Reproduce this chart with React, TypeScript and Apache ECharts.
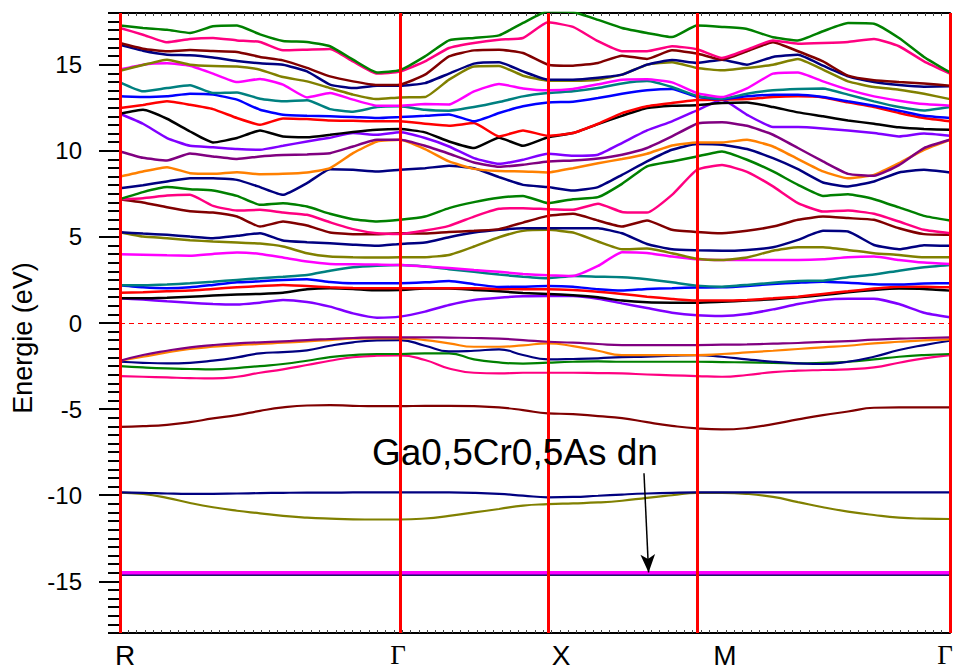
import React, { useEffect, useRef } from 'react';
import * as echarts from 'echarts';

// k-path sampling (arbitrary length units along R-Γ-X-M-Γ)
const kPoints = [
  0, 23, 47, 70, 93, 117, 140, 163, 187, 210, 233, 257, 280,
  305, 329, 354, 379, 403, 428,
  453, 478, 502, 527, 552, 577,
  602, 627, 653, 678, 703, 728, 754, 779, 804, 830,
];
const symK = [0, 280, 428, 577, 830];
const symNames = ['R', 'Γ', 'X', 'M', 'Γ'];
const yTickValues = [-15, -10, -5, 0, 5, 10, 15];
const annotationText = 'Ga0,5Cr0,5As dn';
const arrowFrom = [524, -8.72];
const arrowTo = [528.6, -14.48];

// semicore d bands (sampled at the high-symmetry points)
const b01Black = [-14.62, -14.62, -14.62, -14.62, -14.62];
const b02Red = [-14.58, -14.5, -14.5, -14.5, -14.5];
const b03Blue = [-14.62, -14.62, -14.62, -14.62, -14.62];
const b04Teal = [-14.5, -14.5, -14.5, -14.5, -14.5];
const b05Magenta = [-14.5, -14.5, -14.5, -14.5, -14.5];

// valence bands
const b06Olive = [-9.85, -9.93, -10.15, -10.45, -10.7, -10.9, -11.05, -11.2, -11.3, -11.36, -11.4, -11.41, -11.41, -11.35, -11.2, -11.0, -10.8, -10.6, -10.52, -10.47, -10.42, -10.32, -10.15, -10.0, -9.86, -9.86, -9.92, -10.1, -10.4, -10.7, -10.95, -11.15, -11.3, -11.36, -11.38];
const b07Navy = [-9.84, -9.86, -9.9, -9.92, -9.92, -9.9, -9.88, -9.86, -9.85, -9.85, -9.84, -9.84, -9.84, -9.84, -9.84, -9.86, -9.92, -10.02, -10.12, -10.1, -10.03, -9.96, -9.9, -9.86, -9.84, -9.84, -9.84, -9.84, -9.84, -9.84, -9.84, -9.84, -9.84, -9.84, -9.84];
const b08Maroon = [-6.03, -5.99, -5.91, -5.76, -5.54, -5.35, -5.1, -4.9, -4.79, -4.77, -4.81, -4.83, -4.83, -4.81, -4.81, -4.83, -4.9, -5.06, -5.25, -5.29, -5.41, -5.52, -5.76, -5.97, -6.12, -6.18, -6.1, -5.87, -5.6, -5.35, -5.14, -4.92, -4.9, -4.9, -4.9];
const b09Pink = [-3.08, -3.12, -3.16, -3.2, -3.22, -3.12, -2.89, -2.69, -2.44, -2.19, -1.99, -1.9, -1.88, -2.15, -2.64, -2.89, -2.93, -2.89, -2.89, -2.89, -2.91, -2.93, -2.99, -3.04, -3.08, -3.12, -3.02, -2.85, -2.77, -2.73, -2.69, -2.58, -2.31, -2.05, -1.86];
const b10Green = [-2.5, -2.58, -2.64, -2.67, -2.69, -2.62, -2.5, -2.38, -2.19, -1.98, -1.86, -1.8, -1.8, -1.76, -1.76, -2.11, -2.29, -2.36, -2.3, -2.25, -2.23, -2.25, -2.25, -2.25, -2.25, -2.27, -2.29, -2.31, -2.34, -2.31, -2.25, -2.11, -1.96, -1.86, -1.8];
const b11Navy = [-2.25, -2.31, -2.34, -2.31, -2.19, -2.0, -1.76, -1.69, -1.59, -1.32, -1.12, -1.01, -0.99, -1.32, -1.65, -1.61, -1.53, -1.86, -2.11, -2.09, -2.05, -1.98, -1.96, -1.9, -1.86, -1.96, -2.11, -2.25, -2.34, -2.38, -2.25, -1.96, -1.57, -1.28, -1.03];
const b12Orange = [-2.19, -1.96, -1.71, -1.51, -1.38, -1.28, -1.22, -1.14, -1.07, -0.99, -0.91, -0.89, -0.89, -0.99, -1.18, -1.38, -1.38, -1.3, -1.18, -1.34, -1.61, -1.86, -1.86, -1.86, -1.86, -1.8, -1.71, -1.61, -1.51, -1.41, -1.32, -1.18, -1.09, -1.01, -0.95];
const b13Purple = [-2.19, -1.86, -1.61, -1.41, -1.28, -1.18, -1.12, -1.07, -0.99, -0.93, -0.87, -0.83, -0.83, -0.83, -0.85, -0.87, -0.91, -0.99, -1.09, -1.14, -1.22, -1.28, -1.28, -1.28, -1.28, -1.26, -1.24, -1.2, -1.16, -1.1, -1.05, -0.97, -0.91, -0.87, -0.83];

// conduction bands
const b14Violet = [1.43, 1.36, 1.26, 1.18, 1.1, 1.07, 1.18, 1.34, 1.22, 0.95, 0.56, 0.31, 0.37, 0.66, 1.05, 1.34, 1.47, 1.55, 1.57, 1.57, 1.41, 1.14, 0.87, 0.6, 0.45, 0.41, 0.52, 0.79, 1.1, 1.34, 1.41, 1.41, 1.1, 0.6, 0.33];
const b15Black = [1.43, 1.43, 1.47, 1.53, 1.59, 1.65, 1.69, 1.76, 1.96, 2.02, 1.98, 1.9, 1.92, 2.0, 2.0, 1.92, 1.84, 1.74, 1.69, 1.61, 1.49, 1.3, 1.2, 1.18, 1.18, 1.24, 1.3, 1.38, 1.49, 1.63, 1.78, 1.92, 2.0, 1.98, 1.88];
const b16Red = [1.76, 1.78, 1.84, 1.88, 1.98, 2.07, 2.15, 2.21, 2.15, 2.07, 2.03, 2.02, 2.02, 2.02, 2.02, 2.02, 1.98, 1.96, 1.96, 1.92, 1.82, 1.69, 1.53, 1.4, 1.3, 1.3, 1.34, 1.43, 1.53, 1.69, 1.84, 2.0, 2.11, 2.11, 2.07];
const b17Blue = [2.19, 2.07, 2.02, 2.07, 2.21, 2.36, 2.42, 2.5, 2.54, 2.38, 2.31, 2.31, 2.31, 2.36, 2.44, 2.25, 2.09, 2.11, 2.15, 2.11, 1.96, 1.88, 1.98, 2.02, 2.06, 2.07, 2.15, 2.27, 2.34, 2.4, 2.34, 2.25, 2.23, 2.29, 2.31];
const b18Teal = [2.19, 2.19, 2.23, 2.31, 2.4, 2.5, 2.6, 2.69, 2.79, 3.04, 3.24, 3.33, 3.37, 3.28, 3.12, 2.97, 2.81, 2.69, 2.6, 2.73, 2.69, 2.66, 2.54, 2.36, 2.17, 2.11, 2.21, 2.34, 2.44, 2.46, 2.66, 2.81, 3.04, 3.24, 3.37];
const b19Magenta = [3.99, 3.97, 3.93, 3.91, 4.01, 4.09, 4.01, 3.8, 3.57, 3.43, 3.41, 3.39, 3.37, 3.28, 3.2, 3.08, 2.97, 2.85, 2.77, 2.73, 3.31, 4.11, 4.07, 3.86, 3.7, 3.66, 3.66, 3.66, 3.66, 3.7, 3.82, 3.86, 3.66, 3.51, 3.43];
const b20Olive = [5.27, 5.02, 4.92, 4.81, 4.73, 4.67, 4.61, 4.44, 4.05, 3.86, 3.82, 3.8, 3.82, 3.82, 3.95, 4.44, 4.98, 5.35, 5.41, 5.25, 4.73, 4.28, 4.32, 4.05, 3.73, 3.66, 3.8, 4.2, 4.4, 4.4, 4.24, 4.05, 3.95, 3.82, 3.82];
const b21Navy = [5.27, 5.19, 5.12, 5.02, 4.92, 5.06, 5.21, 4.79, 4.69, 4.63, 4.55, 4.48, 4.59, 4.67, 4.98, 5.25, 5.41, 5.5, 5.5, 5.5, 5.5, 5.21, 4.59, 4.28, 4.22, 4.19, 4.24, 4.4, 4.83, 5.35, 5.31, 4.53, 4.28, 4.52, 4.48];
const b22Maroon = [7.19, 7.0, 6.72, 6.49, 6.41, 6.18, 5.6, 5.89, 5.66, 5.25, 5.16, 5.16, 5.21, 5.19, 5.29, 5.35, 5.45, 5.83, 6.22, 6.34, 5.95, 5.6, 5.95, 5.41, 5.28, 5.21, 5.35, 5.6, 5.99, 6.18, 6.09, 5.99, 5.5, 5.16, 5.12];
const b23Pink = [7.19, 7.25, 7.4, 7.44, 6.8, 6.53, 6.57, 6.41, 6.28, 5.85, 5.45, 5.21, 5.17, 5.37, 5.64, 6.18, 6.63, 6.67, 6.61, 6.57, 6.92, 6.45, 6.41, 7.44, 8.9, 9.17, 8.78, 7.93, 6.96, 6.47, 6.53, 6.34, 5.89, 5.41, 5.21];
const b24Green = [7.19, 7.6, 7.89, 7.77, 7.69, 7.38, 6.86, 6.96, 6.76, 6.34, 6.03, 5.89, 5.99, 6.18, 6.67, 7.02, 7.27, 7.38, 6.96, 7.19, 7.31, 8.08, 9.09, 9.38, 9.67, 9.96, 9.48, 8.8, 8.02, 7.38, 7.48, 7.19, 6.71, 6.22, 5.95];
const b25Navy = [7.83, 8.0, 8.22, 8.41, 8.41, 8.31, 7.89, 7.44, 8.12, 8.93, 8.9, 8.8, 8.9, 8.99, 9.13, 8.99, 8.47, 8.02, 7.89, 7.69, 7.89, 8.6, 9.38, 10.06, 10.39, 10.35, 10.1, 9.57, 8.93, 8.16, 7.93, 8.22, 8.74, 8.9, 8.74];
const b26Orange = [8.5, 8.8, 9.05, 8.7, 8.66, 8.76, 8.64, 8.66, 8.74, 8.99, 9.86, 10.54, 10.64, 10.1, 9.38, 8.95, 8.82, 8.8, 8.74, 8.99, 9.28, 9.52, 9.83, 10.31, 10.48, 10.48, 10.64, 10.25, 9.52, 8.8, 8.4, 8.6, 9.28, 10.06, 10.64];
const b27Purple = [9.96, 9.59, 9.44, 9.84, 9.67, 9.52, 9.67, 9.75, 9.79, 9.86, 10.25, 10.64, 10.64, 10.29, 9.83, 9.32, 9.07, 9.19, 9.38, 9.44, 9.55, 9.77, 10.16, 10.83, 11.57, 11.65, 11.45, 10.93, 10.16, 9.38, 8.66, 8.55, 9.17, 10.16, 10.64];
const b28Violet = [12.15, 11.57, 10.74, 10.29, 10.21, 10.1, 10.06, 10.29, 10.54, 10.76, 11.03, 10.93, 11.07, 10.74, 10.25, 9.57, 9.24, 9.48, 9.83, 9.71, 9.77, 10.45, 11.18, 11.71, 12.35, 12.97, 12.09, 11.38, 11.38, 11.3, 11.18, 11.03, 10.83, 11.0, 10.87];
const b29Black = [12.15, 12.38, 11.86, 11.12, 10.48, 10.74, 11.18, 10.83, 10.79, 10.93, 11.09, 11.22, 11.26, 11.07, 10.54, 10.16, 10.76, 10.29, 10.79, 11.03, 11.55, 12.03, 12.48, 12.62, 12.65, 12.77, 12.81, 12.54, 12.23, 12.0, 11.76, 11.57, 11.36, 11.26, 11.22];
const b30Red = [12.48, 12.66, 12.87, 12.67, 12.42, 11.9, 11.51, 11.88, 11.84, 11.76, 11.74, 11.71, 11.71, 11.57, 11.45, 11.61, 10.83, 11.18, 10.87, 11.03, 11.57, 12.19, 12.58, 12.77, 12.95, 12.97, 13.0, 13.12, 13.16, 13.1, 12.81, 12.54, 12.19, 11.9, 11.71];
const b31Blue = [13.16, 13.12, 13.16, 13.31, 13.26, 12.97, 12.38, 12.09, 12.03, 12.0, 11.96, 11.9, 11.96, 12.03, 12.11, 11.71, 12.19, 12.58, 12.81, 12.85, 13.06, 13.31, 13.51, 13.59, 13.14, 13.0, 13.16, 13.26, 13.26, 13.12, 12.87, 12.62, 12.33, 12.03, 11.9];
const b32Teal = [13.97, 13.45, 13.64, 13.8, 13.35, 13.39, 13.02, 12.87, 12.93, 12.42, 12.27, 12.54, 12.58, 12.38, 12.33, 12.54, 12.83, 13.16, 13.35, 13.45, 13.64, 13.91, 14.05, 13.7, 13.18, 13.02, 13.31, 13.51, 13.59, 13.62, 13.26, 12.87, 12.54, 12.34, 12.54];
const b33Magenta = [14.72, 15.0, 15.08, 14.94, 14.48, 13.99, 14.17, 13.84, 13.1, 13.35, 12.97, 12.62, 12.62, 12.71, 12.69, 13.45, 13.88, 13.62, 13.51, 13.59, 13.86, 14.13, 14.15, 13.97, 13.35, 13.12, 13.62, 14.48, 14.55, 14.03, 13.55, 13.16, 12.91, 12.71, 12.62];
const b34Olive = [14.65, 14.98, 15.29, 15.0, 14.92, 14.9, 14.71, 14.28, 14.03, 13.64, 13.26, 13.0, 13.1, 13.12, 14.13, 14.9, 14.92, 14.36, 14.07, 14.07, 14.13, 14.42, 15.0, 15.14, 14.81, 14.67, 14.81, 15.0, 15.33, 14.71, 14.03, 13.7, 13.55, 13.31, 13.0];
const b35Navy = [16.15, 15.81, 15.58, 15.54, 15.41, 15.21, 15.08, 15.0, 14.61, 13.84, 13.64, 13.78, 13.78, 13.93, 14.48, 15.06, 15.14, 14.61, 14.13, 14.13, 14.24, 14.42, 15.0, 15.27, 15.1, 15.29, 15.0, 15.45, 15.58, 14.94, 14.32, 13.99, 13.82, 13.72, 13.74];
const b36Maroon = [16.26, 15.93, 15.78, 15.85, 15.79, 15.74, 15.45, 15.25, 14.81, 14.32, 14.03, 13.82, 13.84, 14.42, 15.48, 15.83, 15.87, 15.68, 15.0, 14.94, 15.1, 15.52, 15.33, 15.83, 15.65, 15.29, 15.78, 16.3, 15.78, 15.19, 14.36, 14.09, 13.99, 13.9, 13.78];
const b37Pink = [17.13, 16.74, 16.3, 16.49, 16.55, 16.41, 16.32, 15.83, 15.87, 15.91, 15.19, 14.48, 14.6, 15.19, 15.97, 16.26, 16.45, 16.55, 17.46, 17.19, 16.36, 15.78, 15.78, 16.07, 15.9, 15.39, 15.87, 16.41, 16.22, 16.26, 16.32, 16.49, 16.07, 15.19, 14.48];
const b38Green = [17.27, 17.13, 17.03, 16.84, 17.23, 17.27, 16.76, 16.38, 16.32, 16.07, 15.29, 14.55, 14.68, 15.48, 16.41, 16.55, 16.7, 17.42, 18.1, 18.05, 17.6, 17.13, 16.84, 16.6, 17.27, 17.19, 17.07, 16.59, 16.41, 16.94, 17.42, 17.38, 16.55, 15.45, 14.55];

const COL = {
  black: '#000000', red: '#FF0000', blue: '#0000FF', teal: '#008080', magenta: '#FF00FF',
  olive: '#808000', navy: '#000080', maroon: '#800000', pink: '#FF0080', green: '#008000',
  orange: '#FF8000', purple: '#800080', violet: '#8000FF',
};

type Band = { e: number[]; c: string; k: number[]; w: number; smooth: number };
const semi = (e: number[], c: string, w = 2): Band => ({ e, c, k: symK, w, smooth: 0 });
const val = (e: number[], c: string): Band => ({ e, c, k: kPoints, w: 2.2, smooth: 0.5 });
const con = (e: number[], c: string): Band => ({ e, c, k: kPoints, w: 2.5, smooth: 0.15 });

const bands: Band[] = [
  semi(b01Black, COL.black), semi(b02Red, COL.red), semi(b03Blue, COL.navy, 1.5), semi(b04Teal, COL.teal),
  semi(b05Magenta, COL.magenta, 3.5),
  val(b06Olive, COL.olive), val(b07Navy, COL.navy), val(b08Maroon, COL.maroon), val(b09Pink, COL.pink),
  val(b10Green, COL.green), val(b11Navy, COL.navy), val(b12Orange, COL.orange), val(b13Purple, COL.purple),
  con(b14Violet, COL.violet), con(b15Black, COL.black), con(b16Red, COL.red), con(b17Blue, COL.blue),
  con(b18Teal, COL.teal), con(b19Magenta, COL.magenta), con(b20Olive, COL.olive), con(b21Navy, COL.navy),
  con(b22Maroon, COL.maroon), con(b23Pink, COL.pink), con(b24Green, COL.green), con(b25Navy, COL.navy),
  con(b26Orange, COL.orange), con(b27Purple, COL.purple), con(b28Violet, COL.violet), con(b29Black, COL.black),
  con(b30Red, COL.red), con(b31Blue, COL.blue), con(b32Teal, COL.teal), con(b33Magenta, COL.magenta),
  con(b34Olive, COL.olive), con(b35Navy, COL.navy), con(b36Maroon, COL.maroon), con(b37Pink, COL.pink),
  con(b38Green, COL.green),
];

// label placement (small shifts, in k units, as in the original figure)
const labelShift = [5, -2, 13, 28, -5];
const labelValues = symK.map((k, i) => k + labelShift[i]);

const FONT = 'Liberation Sans';

function buildOption(): any {
  const series: any[] = bands.map((b, i) => ({
    type: 'line',
    name: 'band' + (i + 1),
    data: b.k.map((k, j) => [k, b.e[j]]),
    showSymbol: false,
    symbol: 'none',
    smooth: b.smooth,
    lineStyle: { color: b.c, width: b.w },
    itemStyle: { color: b.c },
    silent: true,
    z: 2,
    animation: false,
  }));

  series.push({
    type: 'line',
    name: 'guides',
    data: [],
    z: 5,
    silent: true,
    animation: false,
    markLine: {
      silent: true,
      animation: false,
      symbol: ['none', 'none'],
      label: { show: false },
      emphasis: { disabled: true },
      data: [
        ...symK.map((v) => ({ xAxis: v, lineStyle: { color: '#FF0000', width: 3, type: 'solid' } })),
        { yAxis: 0, lineStyle: { color: '#FF0000', width: 1, type: [5, 4] } },
        [
          { coord: arrowFrom, symbol: 'none', lineStyle: { color: '#000', width: 1.5, type: 'solid' } },
          { coord: arrowTo, symbol: 'arrow', symbolSize: [11, 18], lineStyle: { color: '#000', width: 1.5, type: 'solid' }, itemStyle: { color: '#000' } },
        ],
      ],
    },
  });

  const xLabelFormatter = (v: number) => {
    const i = labelValues.findIndex((lv) => Math.abs(lv - v) < 0.01);
    if (i < 0) return '';
    const n = symNames[i];
    return n === 'Γ' ? `{g|${n}}` : `{s|${n}}`;
  };

  const baseX = {
    type: 'value', min: 0, max: 830, interval: 83,
    axisLine: { show: true, onZero: false, lineStyle: { color: '#000', width: 2 } },
    axisTick: { show: true, inside: true, length: 3, lineStyle: { color: '#444', width: 1 } },
    minorTick: { show: true, splitNumber: 10, length: 3, lineStyle: { color: '#444', width: 1 } },
    splitLine: { show: false },
    minorSplitLine: { show: false },
  };

  return {
    animation: false,
    backgroundColor: '#ffffff',
    textStyle: { fontFamily: FONT },
    grid: { left: 120, right: 5, top: 13, bottom: 39, containLabel: false, outerBoundsMode: 'none' },
    xAxis: [
      {
        ...baseX,
        position: 'bottom',
        axisLabel: {
          show: true, customValues: labelValues, formatter: xLabelFormatter, margin: 8,
          rich: {
            s: { fontFamily: FONT, fontSize: 28, color: '#000' },
            g: { fontFamily: 'Liberation Serif', fontSize: 27, color: '#000' },
          },
        },
      },
      {
        ...baseX,
        position: 'top',
        axisLabel: { show: false },
      },
    ],
    yAxis: [
      {
        type: 'value', min: -18, max: 18, interval: 0.5, position: 'left',
        axisLine: { show: true, onZero: false, lineStyle: { color: '#000', width: 1.5 } },
        axisTick: { show: true, inside: false, length: 12, lineStyle: { color: '#000', width: 2 } },
        splitLine: { show: false },
        axisLabel: {
          interval: 0, margin: 38, fontSize: 24, color: '#000', fontFamily: FONT,
          formatter: (v: number) => (yTickValues.includes(Math.round(v * 100) / 100) ? String(v) : ''),
        },
        name: 'Energie (eV)', nameLocation: 'middle', nameGap: 80,
        nameTextStyle: { fontSize: 27, color: '#000', fontFamily: FONT, padding: [0, 30, 0, 0] },
      },
      {
        type: 'value', min: -18, max: 18, position: 'left',
        axisLine: { show: false, onZero: false },
        axisTick: { show: true, inside: false, length: 21, customValues: yTickValues, lineStyle: { color: '#000', width: 2 } },
        axisLabel: { show: false },
        splitLine: { show: false },
      },
    ],
    graphic: [
      {
        type: 'text', left: 372, top: 434, z: 10, silent: true,
        style: { text: annotationText, font: `37px "${FONT}"`, fill: '#000' },
      },
    ],
    series,
  };
}

export default function App() {
  const ref = useRef<HTMLDivElement>(null);
  useEffect(() => {
    if (!ref.current) return;
    const chart = echarts.init(ref.current, null, { renderer: 'svg' });
    chart.setOption(buildOption());
    return () => chart.dispose();
  }, []);
  return (
    <div
      ref={ref}
      style={{ position: 'fixed', left: 0, top: 0, width: 955, height: 672, background: '#fff' }}
    />
  );
}
